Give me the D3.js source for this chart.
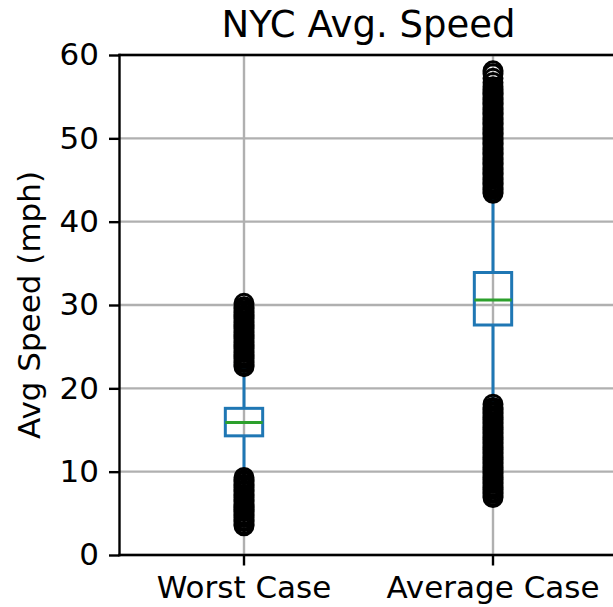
<!DOCTYPE html>
<html>
<head>
<meta charset="utf-8">
<script src="https://cdn.jsdelivr.net/npm/d3@7/dist/d3.min.js"></script>
<style>
  html, body { margin: 0; padding: 0; background: #fff; }
  svg { display: block; font-family: "DejaVu Sans", sans-serif; }
</style>
</head>
<body>
<div id="chart"></div>
<script>
// Box summary per scenario (mph)
const categories = ["Worst Case", "Average Case"];
const q1Values = [14.3, 27.6];
const medianValues = [15.9, 30.6];
const q3Values = [17.6, 33.9];
const whiskerLow = [9.4, 18.2];
const whiskerHigh = [22.5, 43.3];

// Outlying trip speeds beyond the whiskers
const worstFliers = [
  3.5, 3.7, 4.0, 4.2, 4.5, 4.7, 4.9, 5.2, 5.4, 5.7, 5.9, 6.1, 6.4, 6.6, 6.9, 7.1,
  7.3, 7.6, 7.8, 8.1, 8.3, 8.5, 8.8, 9.0, 9.3,
  22.6, 22.8, 23.1, 23.3, 23.6, 23.8, 24.0, 24.3, 24.5, 24.8, 25.0, 25.2, 25.5,
  25.7, 26.0, 26.2, 26.4, 26.7, 26.9, 27.2, 27.4, 27.6, 27.9, 28.1, 28.4, 28.6,
  28.8, 29.1, 29.3, 29.6, 29.8, 30.2
];
const averageFliers = [
  6.9, 7.1, 7.4, 7.6, 7.9, 8.1, 8.3, 8.6, 8.8, 9.1, 9.3, 9.5, 9.8, 10.0, 10.3,
  10.5, 10.7, 11.0, 11.2, 11.5, 11.7, 11.9, 12.2, 12.4, 12.7, 12.9, 13.1, 13.4,
  13.6, 13.9, 14.1, 14.3, 14.6, 14.8, 15.1, 15.3, 15.5, 15.8, 16.0, 16.3, 16.5,
  16.7, 17.0, 17.2, 17.5, 17.7, 18.1,
  43.4, 43.6, 43.9, 44.1, 44.4, 44.6, 44.8, 45.1, 45.3, 45.6, 45.8, 46.0, 46.3,
  46.5, 46.8, 47.0, 47.2, 47.5, 47.7, 48.0, 48.2, 48.4, 48.7, 48.9, 49.2, 49.4,
  49.6, 49.9, 50.1, 50.4, 50.6, 50.8, 51.1, 51.3, 51.6, 51.8, 52.0, 52.3, 52.5,
  52.8, 53.0, 53.2, 53.5, 53.7, 54.0, 54.2, 54.4, 54.7, 54.9, 55.2, 55.4, 55.6,
  55.9, 56.2, 56.7, 57.2, 57.75, 58.1
];
const fliers = [worstFliers, averageFliers];

const yTicks = [0, 10, 20, 30, 40, 50, 60];

const W = 613, H = 607;
const plot = { left: 119.5, right: 617.5, top: 55, bottom: 555 };

const svg = d3.select("#chart").append("svg")
  .attr("width", W).attr("height", H);

const x = d3.scaleBand().domain(categories).range([plot.left, plot.right]);
const y = d3.scaleLinear().domain([0, 60]).range([plot.bottom, plot.top]);

const blue = "#1f77b4", green = "#2ca02c", gridCol = "#b0b0b0";
const boxW = x.bandwidth() * 0.15;
const capW = boxW / 2;
const cx = c => x(c) + x.bandwidth() / 2;

// grid
const grid = svg.append("g");
grid.selectAll("line.h").data(yTicks).join("line")
  .attr("x1", plot.left).attr("x2", plot.right)
  .attr("y1", d => y(d)).attr("y2", d => y(d))
  .attr("stroke", gridCol).attr("stroke-width", 2.4);
grid.selectAll("line.v").data(categories).join("line")
  .attr("x1", d => cx(d)).attr("x2", d => cx(d))
  .attr("y1", plot.top).attr("y2", plot.bottom)
  .attr("stroke", gridCol).attr("stroke-width", 2.4);

const stats = categories.map((c, i) => ({
  c, q1: q1Values[i], med: medianValues[i], q3: q3Values[i],
  lo: whiskerLow[i], hi: whiskerHigh[i], out: fliers[i]
}));

const boxes = svg.append("g");
// whiskers
boxes.selectAll("line.wl").data(stats).join("line")
  .attr("x1", d => cx(d.c)).attr("x2", d => cx(d.c))
  .attr("y1", d => y(d.q1)).attr("y2", d => y(d.lo))
  .attr("stroke", blue).attr("stroke-width", 3);
boxes.selectAll("line.wh").data(stats).join("line")
  .attr("x1", d => cx(d.c)).attr("x2", d => cx(d.c))
  .attr("y1", d => y(d.q3)).attr("y2", d => y(d.hi))
  .attr("stroke", blue).attr("stroke-width", 3);
// caps
["lo", "hi"].forEach(k => {
  boxes.selectAll("line.cap-" + k).data(stats).join("line")
    .attr("x1", d => cx(d.c) - capW / 2).attr("x2", d => cx(d.c) + capW / 2)
    .attr("y1", d => y(d[k])).attr("y2", d => y(d[k]))
    .attr("stroke", blue).attr("stroke-width", 3);
});
// boxes
boxes.selectAll("rect").data(stats).join("rect")
  .attr("x", d => cx(d.c) - boxW / 2).attr("width", boxW)
  .attr("y", d => y(d.q3)).attr("height", d => y(d.q1) - y(d.q3))
  .attr("fill", "none").attr("stroke", blue).attr("stroke-width", 3);
// medians
boxes.selectAll("line.med").data(stats).join("line")
  .attr("x1", d => cx(d.c) - boxW / 2).attr("x2", d => cx(d.c) + boxW / 2)
  .attr("y1", d => y(d.med)).attr("y2", d => y(d.med))
  .attr("stroke", green).attr("stroke-width", 3);
// fliers: hollow circles
stats.forEach(d => {
  boxes.append("g").selectAll("circle").data(d.out).join("circle")
    .attr("cx", cx(d.c)).attr("cy", v => y(v)).attr("r", 9)
    .attr("fill", "none").attr("stroke", "#000").attr("stroke-width", 3);
});

// axes
const yAxis = svg.append("g").attr("transform", `translate(${plot.left},0)`)
  .call(d3.axisLeft(y).tickValues(yTicks).tickSize(10.5).tickSizeOuter(0).tickPadding(10));
const xAxis = svg.append("g").attr("transform", `translate(0,${plot.bottom})`)
  .call(d3.axisBottom(x).tickSize(10.5).tickSizeOuter(0).tickPadding(10));
[yAxis, xAxis].forEach(a => {
  a.select(".domain").remove();
  a.selectAll(".tick line").attr("stroke", "#000").attr("stroke-width", 2.4);
  a.selectAll(".tick text").attr("fill", "#000")
    .style("font-family", "'DejaVu Sans', sans-serif").style("font-size", "31px");
});

// spines
const spines = svg.append("g").attr("stroke", "#000").attr("stroke-width", 2.4)
  .attr("stroke-linecap", "square");
spines.append("line").attr("x1", plot.left).attr("x2", plot.left)
  .attr("y1", plot.top).attr("y2", plot.bottom);
spines.append("line").attr("x1", plot.left).attr("x2", plot.right)
  .attr("y1", plot.top).attr("y2", plot.top);
spines.append("line").attr("x1", plot.left).attr("x2", plot.right)
  .attr("y1", plot.bottom).attr("y2", plot.bottom);
spines.append("line").attr("x1", plot.right).attr("x2", plot.right)
  .attr("y1", plot.top).attr("y2", plot.bottom);

// title
svg.append("text")
  .attr("x", (plot.left + plot.right) / 2).attr("y", 37)
  .attr("text-anchor", "middle").attr("font-size", 37).attr("fill", "#000")
  .text("NYC Avg. Speed");

// y label
svg.append("text")
  .attr("transform", `translate(40,${(plot.top + plot.bottom) / 2}) rotate(-90)`)
  .attr("text-anchor", "middle").attr("font-size", 31).attr("fill", "#000")
  .text("Avg Speed (mph)");
</script>
</body>
</html>
